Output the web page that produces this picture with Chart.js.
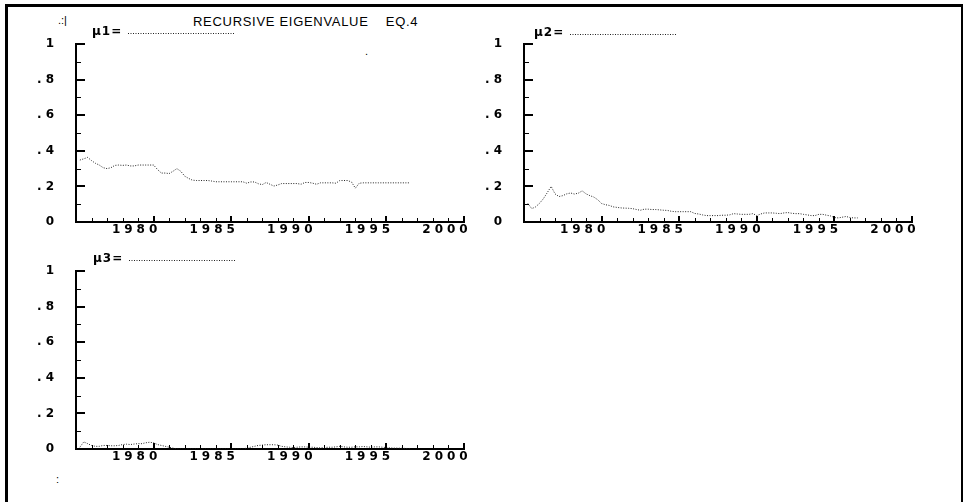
<!DOCTYPE html>
<html>
<head>
<meta charset="utf-8">
<script src="https://cdn.jsdelivr.net/npm/chart.js@4.4.1/dist/chart.umd.min.js"></script>
<style>
body { margin:0; background:#fff; width:968px; height:502px; overflow:hidden; position:relative; font-family:"Liberation Sans", Arial, sans-serif; }
#frame { position:absolute; left:5px; top:4px; width:953px; height:520px; border:3px solid #000; border-right-width:2px; }
canvas { position:absolute; }
#title { position:absolute; left:193px; top:15px; font-size:13px; line-height:13px; letter-spacing:0.7px; white-space:pre; color:#000; }
.spot { position:absolute; font-size:11px; line-height:11px; color:#000; }
</style>
</head>
<body>
<div id="frame"></div>
<div id="title">RECURSIVE EIGENVALUE    EQ.4</div>
<div class="spot" style="left:58px;top:15px">.:|</div>
<div class="spot" style="left:365px;top:46px">.</div>
<div class="spot" style="left:56px;top:474px">:</div>
<canvas id="c1" width="500" height="252" style="left:0;top:0"></canvas>
<canvas id="c2" width="500" height="252" style="left:448px;top:0"></canvas>
<canvas id="c3" width="500" height="252" style="left:0;top:227px"></canvas>
<script>
// quarterly recursive eigenvalues, first quarter 1975 Q2
const startYear = 1975.25;

const mu1 = [
  0.348, 0.355, 0.363, 0.345, 0.33, 0.32, 0.305, 0.30, 0.305, 0.318,
  0.32, 0.318, 0.32, 0.315, 0.315, 0.32, 0.32, 0.32, 0.32, 0.32,
  0.295, 0.275, 0.275, 0.272, 0.285, 0.30, 0.285, 0.258, 0.245, 0.235,
  0.233, 0.233, 0.233, 0.233, 0.23, 0.226, 0.226, 0.226, 0.226, 0.226,
  0.226, 0.226, 0.226, 0.218, 0.225, 0.225, 0.215, 0.21, 0.222, 0.212,
  0.202, 0.208, 0.216, 0.216, 0.216, 0.216, 0.216, 0.212, 0.222, 0.222,
  0.218, 0.212, 0.22, 0.22, 0.22, 0.22, 0.218, 0.233, 0.233, 0.233,
  0.225, 0.19, 0.218, 0.22, 0.22, 0.22, 0.22, 0.22, 0.22, 0.22,
  0.22, 0.22, 0.22, 0.22, 0.22, 0.22
];

const mu2 = [
  0.104, 0.075, 0.085, 0.105, 0.131, 0.165, 0.2, 0.158, 0.143, 0.148,
  0.158, 0.163, 0.157, 0.162, 0.175, 0.158, 0.148, 0.14, 0.125, 0.104,
  0.097, 0.093, 0.085, 0.082, 0.079, 0.078, 0.077, 0.075, 0.07, 0.066,
  0.072, 0.072, 0.07, 0.07, 0.068, 0.066, 0.065, 0.06, 0.058, 0.058,
  0.058, 0.058, 0.058, 0.048, 0.045, 0.04, 0.036, 0.036, 0.036, 0.036,
  0.038, 0.038, 0.04, 0.047, 0.045, 0.043, 0.043, 0.043, 0.047, 0.036,
  0.045, 0.051, 0.051, 0.051, 0.049, 0.047, 0.051, 0.053, 0.049, 0.047,
  0.047, 0.043, 0.04, 0.036, 0.036, 0.043, 0.043, 0.038, 0.034, 0.025,
  0.023, 0.027, 0.031, 0.025, 0.023, 0.023
];

const mu3 = [
  0.01, 0.04, 0.03, 0.02, 0.015, 0.015, 0.02, 0.02, 0.018, 0.018,
  0.02, 0.025, 0.027, 0.025, 0.028, 0.03, 0.03, 0.035, 0.038, 0.035,
  0.025, 0.02, 0.015, 0.01, 0.005, 0, 0, 0, 0, 0,
  0, 0, 0, 0, 0, 0, 0, 0, 0, 0,
  0, 0, 0, 0.005, 0.01, 0.015, 0.02, 0.022, 0.024, 0.024,
  0.024, 0.022, 0.015, 0.012, 0.01, 0.008, 0.01, 0.012, 0.012, 0.01,
  0.01, 0.008, 0.006, 0.008, 0.01, 0.01, 0.012, 0.015, 0.012, 0.01,
  0.01, 0.012, 0.012, 0.014, 0.012, 0.01, 0.012, 0.012, 0.01, 0.008,
  0.006, 0.005, 0.005, 0.004, 0.003, 0.003
];

const yearTicks = [1980, 1985, 1990, 1995, 2000];
const titleText = "RECURSIVE EIGENVALUE    EQ.4";

const lineColor = "#222";
const tickFont = { family: "DejaVu Sans", size: 12, weight: "bold" };

// axis ticks are drawn pointing into the plot, like the old printout
const printoutAxes = {
  id: "printoutAxes",
  beforeDraw(chart) {
    chart.ctx.letterSpacing = "4px";
  },
  afterDraw(chart, args, opts) {
    const ctx = chart.ctx;
    ctx.letterSpacing = "0px";
    const xs = chart.scales.x, ys = chart.scales.y;
    const a = chart.chartArea;
    ctx.save();
    ctx.strokeStyle = "#000";
    xs.ticks.forEach(t => {
      const major = t.value % 5 === 0;
      const px = Math.round(xs.getPixelForValue(t.value));
      ctx.lineWidth = major ? 2 : 1;
      ctx.beginPath();
      ctx.moveTo(major ? px : px + 0.5, a.bottom);
      ctx.lineTo(major ? px : px + 0.5, a.bottom - (major ? 6 : 4));
      ctx.stroke();
    });
    ys.ticks.forEach(t => {
      const r = Math.round(t.value * 10);
      const major = r % 2 === 0;
      const py = Math.round(ys.getPixelForValue(t.value));
      ctx.lineWidth = major ? 2 : 1;
      ctx.beginPath();
      ctx.moveTo(a.left, major ? py : py + 0.5);
      ctx.lineTo(a.left + (major ? 9 : 5), major ? py : py + 0.5);
      ctx.stroke();
    });

    // "mu = ......" key above each panel
    const ds = chart.data.datasets[0];
    const lx = a.left + opts.dx, ly = a.top + opts.dy;
    ctx.fillStyle = "#000";
    ctx.font = "bold 12px 'DejaVu Sans', sans-serif";
    ctx.letterSpacing = "1px";
    ctx.textBaseline = "middle";
    ctx.fillText(ds.label + "=", lx, ly);
    ctx.letterSpacing = "0px";
    ctx.strokeStyle = lineColor;
    ctx.lineWidth = 1;
    ctx.setLineDash(ds.borderDash);
    ctx.beginPath();
    ctx.moveTo(lx + 36, ly + 1.5);
    ctx.lineTo(lx + 143, ly + 1.5);
    ctx.stroke();
    ctx.restore();
  }
};

function makePanel(id, label, values, key) {
  const pts = values.map((v, i) => ({ x: startYear + i / 4, y: v }));
  return new Chart(id, {
    type: "line",
    data: {
      datasets: [{
        label: label,
        data: pts,
        borderColor: lineColor,
        borderWidth: 1,
        borderDash: [1, 1.5],
        pointRadius: 0,
        tension: 0,
        fill: false
      }]
    },
    options: {
      responsive: false,
      animation: false,
      layout: { padding: { left: 0, right: 36, top: 44, bottom: 0 } },
      plugins: {
        legend: { display: false },
        tooltip: { enabled: false },
        printoutAxes: key
      },
      scales: {
        x: {
          type: "linear",
          min: 1975,
          max: 2000,
          z: 1,
          grid: { display: false, drawTicks: false },
          border: { display: true, color: "#000", width: 2 },
          afterFit: s => { s.height = 30; },
          ticks: {
            stepSize: 1,
            autoSkip: false,
            maxRotation: 0,
            padding: 1,
            labelOffset: -17,
            color: "#000",
            font: tickFont,
            callback: v => yearTicks.includes(v) ? String(v) : ""
          }
        },
        y: {
          min: 0,
          max: 1,
          grid: { display: false, drawTicks: false },
          border: { display: true, color: "#000", width: 2 },
          afterFit: s => { s.width = 76; },
          ticks: {
            stepSize: 0.1,
            padding: 18,
            color: "#000",
            font: tickFont,
            callback: v => {
              const r = Math.round(v * 10);
              if (r % 2) return "";
              if (r === 0) return "0";
              if (r === 10) return "1";
              return "." + r;
            }
          }
        }
      }
    },
    plugins: [printoutAxes]
  });
}

document.getElementById("title").textContent = titleText;
makePanel("c1", "\u03bc1", mu1, { dx: 16, dy: -12 });
makePanel("c2", "\u03bc2", mu2, { dx: 10, dy: -11 });
makePanel("c3", "\u03bc3", mu3, { dx: 17, dy: -12 });
</script>
</body>
</html>
